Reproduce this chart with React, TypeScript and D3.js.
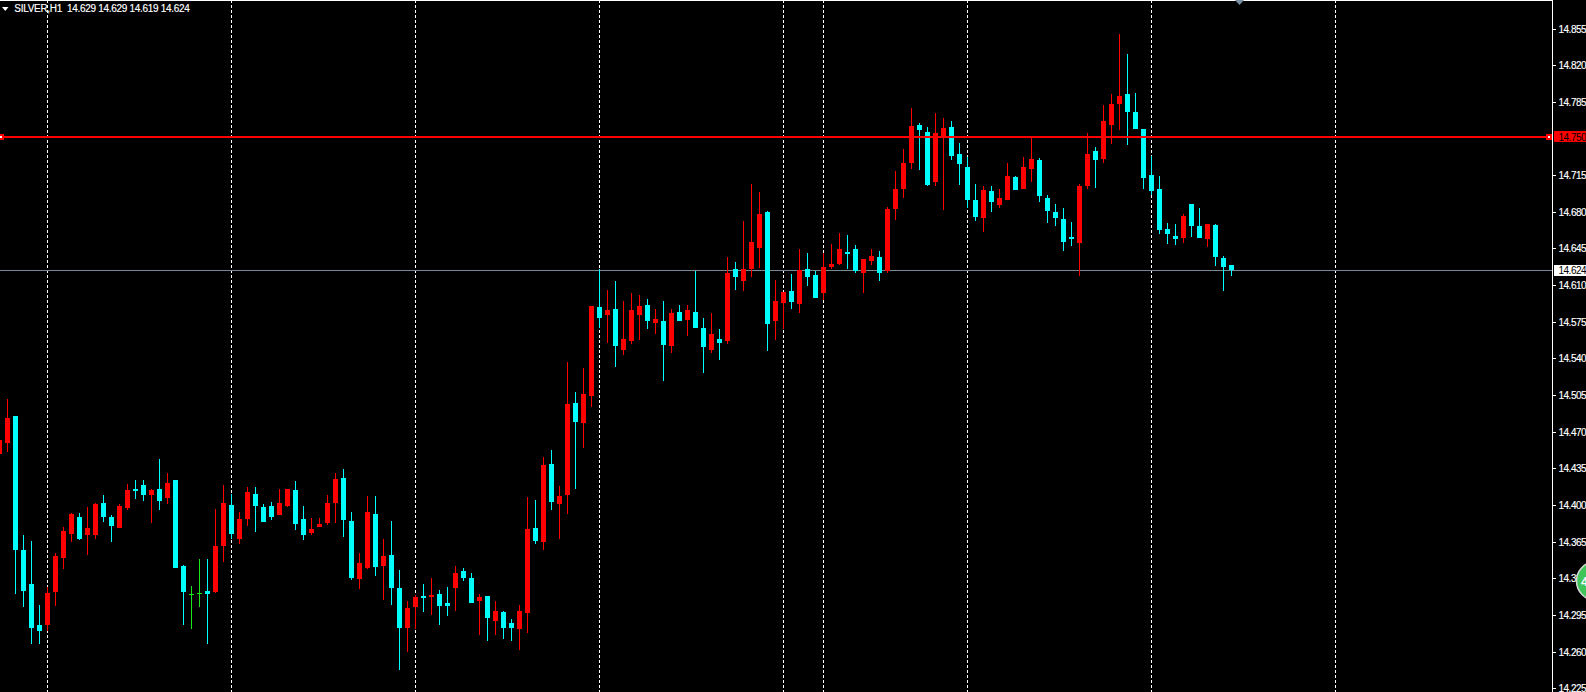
import React from 'react';
import * as d3 from 'd3';

// SILVER,H1 - prices, one column per bar (oldest bar is cut by the left edge)
const opens = [
  14.449, 14.459, 14.485, 14.357, 14.325, 14.285, 14.285, 14.317, 14.349, 14.372, 14.389, 14.371, 14.371, 14.402, 14.389, 14.378,
  14.397, 14.415, 14.419, 14.41, 14.415, 14.407, 14.424, 14.342, 14.315, 14.316, 14.318, 14.317, 14.361, 14.4, 14.368, 14.387,
  14.411, 14.398, 14.399, 14.39, 14.399, 14.414, 14.387, 14.373, 14.379, 14.383, 14.402, 14.426, 14.385, 14.329, 14.34, 14.391,
  14.342, 14.352, 14.321, 14.283, 14.303, 14.313, 14.312, 14.315, 14.306, 14.321, 14.337, 14.33, 14.308, 14.313, 14.289, 14.298,
  14.287, 14.282, 14.297, 14.378, 14.365, 14.439, 14.401, 14.41, 14.497, 14.478, 14.504, 14.589, 14.581, 14.587, 14.548, 14.557,
  14.581, 14.591, 14.574, 14.576, 14.552, 14.584, 14.577, 14.584, 14.569, 14.548, 14.559, 14.557, 14.625, 14.614, 14.625, 14.645,
  14.68, 14.576, 14.593, 14.604, 14.592, 14.625, 14.62, 14.602, 14.627, 14.63, 14.642, 14.644, 14.622, 14.633, 14.637, 14.623,
  14.683, 14.702, 14.727, 14.763, 14.756, 14.708, 14.751, 14.761, 14.735, 14.723, 14.691, 14.674, 14.7, 14.686, 14.691, 14.713,
  14.702, 14.721, 14.729, 14.693, 14.68, 14.673, 14.656, 14.65, 14.705, 14.738, 14.73, 14.763, 14.783, 14.792, 14.775, 14.759,
  14.715, 14.702, 14.664, 14.657, 14.655, 14.687, 14.666, 14.654, 14.667, 14.636, 14.629,
];
const highs = [
  14.462, 14.501, 14.485, 14.371, 14.366, 14.305, 14.322, 14.354, 14.379, 14.392, 14.392, 14.398, 14.402, 14.41, 14.39, 14.401,
  14.42, 14.424, 14.424, 14.415, 14.444, 14.431, 14.424, 14.343, 14.323, 14.348, 14.348, 14.396, 14.419, 14.411, 14.393, 14.417,
  14.417, 14.401, 14.403, 14.415, 14.415, 14.423, 14.399, 14.388, 14.388, 14.41, 14.431, 14.434, 14.393, 14.354, 14.409, 14.409,
  14.368, 14.385, 14.338, 14.308, 14.314, 14.325, 14.33, 14.319, 14.322, 14.342, 14.34, 14.335, 14.315, 14.313, 14.308, 14.299,
  14.291, 14.305, 14.408, 14.405, 14.446, 14.453, 14.418, 14.537, 14.508, 14.531, 14.59, 14.625, 14.605, 14.614, 14.595, 14.602,
  14.601, 14.597, 14.587, 14.595, 14.587, 14.591, 14.591, 14.623, 14.579, 14.583, 14.568, 14.637, 14.632, 14.671, 14.707, 14.699,
  14.681, 14.615, 14.603, 14.621, 14.644, 14.641, 14.623, 14.641, 14.649, 14.66, 14.658, 14.648, 14.635, 14.644, 14.643, 14.685,
  14.719, 14.74, 14.779, 14.765, 14.761, 14.774, 14.77, 14.767, 14.746, 14.732, 14.707, 14.705, 14.705, 14.702, 14.727, 14.714,
  14.732, 14.751, 14.731, 14.696, 14.687, 14.684, 14.67, 14.707, 14.755, 14.742, 14.782, 14.792, 14.85, 14.831, 14.793, 14.759,
  14.733, 14.714, 14.669, 14.668, 14.678, 14.687, 14.684, 14.668, 14.668, 14.638, 14.629,
];
const lows = [
  14.449, 14.451, 14.315, 14.303, 14.267, 14.267, 14.28, 14.304, 14.339, 14.365, 14.367, 14.352, 14.368, 14.384, 14.365, 14.378,
  14.395, 14.406, 14.404, 14.383, 14.395, 14.401, 14.34, 14.285, 14.282, 14.303, 14.267, 14.316, 14.346, 14.368, 14.363, 14.38,
  14.374, 14.384, 14.386, 14.39, 14.398, 14.376, 14.367, 14.371, 14.379, 14.381, 14.383, 14.369, 14.328, 14.32, 14.339, 14.332,
  14.309, 14.305, 14.242, 14.26, 14.282, 14.298, 14.295, 14.285, 14.294, 14.299, 14.327, 14.306, 14.276, 14.27, 14.276, 14.272,
  14.27, 14.262, 14.278, 14.363, 14.357, 14.395, 14.368, 14.391, 14.415, 14.454, 14.494, 14.569, 14.555, 14.532, 14.543, 14.554,
  14.558, 14.568, 14.563, 14.518, 14.545, 14.576, 14.561, 14.569, 14.526, 14.545, 14.538, 14.554, 14.605, 14.604, 14.618, 14.626,
  14.547, 14.558, 14.568, 14.587, 14.583, 14.609, 14.598, 14.596, 14.625, 14.629, 14.625, 14.622, 14.602, 14.629, 14.614, 14.622,
  14.672, 14.693, 14.721, 14.72, 14.705, 14.705, 14.682, 14.729, 14.706, 14.684, 14.671, 14.661, 14.68, 14.684, 14.691, 14.701,
  14.702, 14.708, 14.689, 14.669, 14.666, 14.643, 14.647, 14.619, 14.702, 14.703, 14.727, 14.745, 14.758, 14.744, 14.759, 14.702,
  14.696, 14.659, 14.649, 14.648, 14.65, 14.656, 14.655, 14.646, 14.628, 14.604, 14.619,
];
const closes = [
  14.462, 14.483, 14.357, 14.318, 14.283, 14.28, 14.316, 14.351, 14.375, 14.391, 14.368, 14.378, 14.401, 14.389, 14.38, 14.399,
  14.414, 14.413, 14.41, 14.414, 14.404, 14.421, 14.34, 14.317, 14.315, 14.316, 14.315, 14.361, 14.402, 14.372, 14.387, 14.412,
  14.399, 14.384, 14.389, 14.402, 14.415, 14.382, 14.371, 14.377, 14.382, 14.402, 14.425, 14.386, 14.33, 14.345, 14.393, 14.341,
  14.351, 14.321, 14.283, 14.302, 14.312, 14.311, 14.314, 14.304, 14.304, 14.335, 14.33, 14.306, 14.312, 14.292, 14.299, 14.283,
  14.283, 14.299, 14.377, 14.366, 14.438, 14.403, 14.409, 14.496, 14.479, 14.506, 14.59, 14.579, 14.586, 14.552, 14.559, 14.586,
  14.59, 14.576, 14.578, 14.553, 14.583, 14.576, 14.586, 14.569, 14.551, 14.563, 14.555, 14.622, 14.618, 14.625, 14.651, 14.678,
  14.573, 14.595, 14.603, 14.594, 14.624, 14.618, 14.598, 14.627, 14.63, 14.644, 14.641, 14.623, 14.635, 14.638, 14.622, 14.683,
  14.702, 14.727, 14.762, 14.758, 14.706, 14.755, 14.76, 14.733, 14.726, 14.691, 14.675, 14.701, 14.689, 14.693, 14.714, 14.701,
  14.723, 14.73, 14.695, 14.681, 14.674, 14.651, 14.654, 14.705, 14.735, 14.729, 14.767, 14.783, 14.791, 14.775, 14.759, 14.712,
  14.7, 14.663, 14.659, 14.654, 14.676, 14.666, 14.655, 14.668, 14.637, 14.627, 14.624,
];

// bars carrying a period separator (the last one sits past the newest bar)
const separatorBars = [6, 29, 52, 75, 98, 103, 121, 144, 167];
const priceTicks = [14.855, 14.82, 14.785, 14.715, 14.68, 14.645, 14.61, 14.575, 14.54, 14.505, 14.47, 14.435, 14.4, 14.365, 14.33, 14.295, 14.26, 14.225];
const alertPrice = 14.7513;
const alertLabel = '14.750';
const bidPrice = 14.624;
const legendText = 'SILVER,H1  14.629 14.629 14.619 14.624';

const WIDTH = 1586;
const HEIGHT = 692;
const PLOT_RIGHT = 1552;
const BAR_STEP = 8;
const FONT = '"Liberation Sans", sans-serif';

const UP = '#ff0000';
const DOWN = '#00ffff';
const DOJI = '#19e619';

const x = d3
  .scaleLinear()
  .domain([0, opens.length - 1])
  .range([-0.5, -0.5 + BAR_STEP * (opens.length - 1)]);
const y = d3.scaleLinear().domain([14.225, 14.855]).range([688.3, 28.5]);
const py = (p: number) => Math.round(y(p));

const barColor = (i: number) => (closes[i] > opens[i] ? UP : closes[i] < opens[i] ? DOWN : DOJI);

export default function App() {
  const alertY = py(alertPrice);
  const bidY = py(bidPrice);
  return (
    <svg
      width={WIDTH}
      height={HEIGHT}
      style={{ position: 'absolute', left: 0, top: 0, background: '#000' }}
      fontFamily={FONT}
      fontSize={10}
    >
      <g shapeRendering="crispEdges">
        <line x1={0} x2={PLOT_RIGHT} y1={0.5} y2={0.5} stroke="#fff" />
        {separatorBars.map((b) => (
          <line key={b} x1={x(b)} x2={x(b)} y1={0} y2={HEIGHT} stroke="#fff" strokeDasharray="3 2" />
        ))}
        <line x1={0} x2={PLOT_RIGHT} y1={bidY + 0.5} y2={bidY + 0.5} stroke="#778899" />
        {opens.map((o, i) => {
          const top = py(Math.max(o, closes[i]));
          const bottom = py(Math.min(o, closes[i]));
          const c = barColor(i);
          return (
            <g key={i}>
              <rect x={x(i) - 0.5} width={1} y={py(highs[i])} height={py(lows[i]) - py(highs[i])} fill={c} />
              {o === closes[i] ? (
                <rect x={x(i) - 2.5} width={5} y={top} height={1} fill={c} />
              ) : (
                <rect x={x(i) - 2.5} width={5} y={top} height={Math.max(bottom - top, 2)} fill={c} />
              )}
            </g>
          );
        })}
        <rect x={0} width={PLOT_RIGHT} y={alertY - 1} height={2} fill={UP} />
        <rect x={0} width={4} y={alertY - 3} height={6} fill={UP} />
        <rect x={0} width={2} y={alertY - 1} height={2} fill="#fff" />
        <rect x={PLOT_RIGHT - 6} width={6} y={alertY - 3} height={6} fill={UP} />
        <rect x={PLOT_RIGHT - 4} width={2} y={alertY - 1} height={2} fill="#fff" />
        <line x1={PLOT_RIGHT + 0.5} x2={PLOT_RIGHT + 0.5} y1={0} y2={HEIGHT} stroke="#fff" />
        {priceTicks.map((t) => (
          <line key={t} x1={PLOT_RIGHT + 1} x2={PLOT_RIGHT + 4} y1={py(t) + 0.5} y2={py(t) + 0.5} stroke="#fff" />
        ))}
      </g>

      <g stroke="#fff" strokeWidth={0.15}>
        {priceTicks.map((t) => (
          <text key={t} x={1558.5} y={py(t) + 3.5} fill="#fff" letterSpacing={-0.5}>
            {d3.format('.3f')(t)}
          </text>
        ))}
      </g>

      <g shapeRendering="crispEdges">
        <rect x={1554} width={32} y={alertY - 6} height={11} fill={UP} />
        <rect x={1554} width={32} y={bidY - 5} height={11} fill="#fff" />
      </g>
      <text x={1558.5} y={alertY + 3.5} fill="#000" letterSpacing={-0.5}>
        {alertLabel}
      </text>
      <text x={1558.5} y={bidY + 4} fill="#000" letterSpacing={-0.5}>
        {d3.format('.3f')(bidPrice)}
      </text>

      {/* one-click trading badge cut by the right edge */}
      <circle cx={1596} cy={581} r={19.5} fill="#3fc45a" stroke="#d8d8d8" strokeWidth={1.5} />
      <text x={1581} y={585.5} fill="#fff" fontSize={13} fontWeight="bold">
        4
      </text>

      <path d={d3.line()([[2, 7], [8.5, 7], [5.25, 11]]) + 'Z'} fill="#fff" />
      <text x={14.3} y={12} fill="#fff" stroke="#fff" strokeWidth={0.15} letterSpacing={-0.3} xmlSpace="preserve">
        {legendText}
      </text>
      <path d={d3.line()([[1235, 0], [1244, 0], [1239.5, 5]]) + 'Z'} fill="#7b8fa3" />
    </svg>
  );
}
